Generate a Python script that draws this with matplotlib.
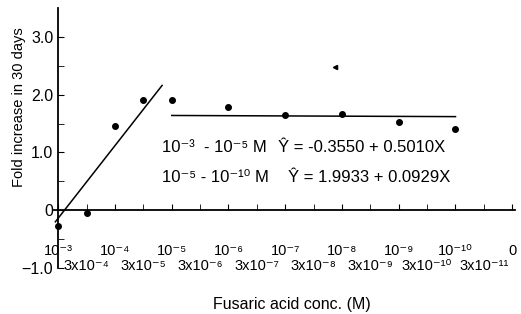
"""Fold increase vs fusaric acid concentration"""

import matplotlib
matplotlib.use("Agg")
import matplotlib.pyplot as plt

plt.rcParams["font.family"] = ["Liberation Sans", "DejaVu Sans"]
plt.rcParams["mathtext.default"] = "regular"

# Concentration steps, one per tick (10^-3 down to 0)
top_labels = ["10⁻³", "10⁻⁴", "10⁻⁵", "10⁻⁶", "10⁻⁷",
              "10⁻⁸", "10⁻⁹", "10⁻¹⁰", "0"]
bottom_labels = ["3x10⁻⁴", "3x10⁻⁵", "3x10⁻⁶", "3x10⁻⁷",
                 "3x10⁻⁸", "3x10⁻⁹", "3x10⁻¹⁰", "3x10⁻¹¹"]

# Measured points (x = concentration step index)
point_x = [0, 1, 2, 3, 4, 6, 8, 10, 12, 14]
point_y = [-0.27, -0.05, 1.45, 1.90, 1.90, 1.78, 1.64, 1.67, 1.53, 1.40]

# Fitted lines as drawn
fit1_x = [-0.1, 3.66]
fit1_y = [-0.20, 2.16]
fit2_x = [4.0, 14.0]
fit2_y = [1.64, 1.62]

# stray mark on the scan
stray_x = [9.75]
stray_y = [2.48]

fig = plt.figure(figsize=(5.21, 3.14), dpi=100)
ax = fig.add_axes([0.1036, 0.1465, 0.885, 0.828])

ax.plot(point_x, point_y, "o", color="black", markersize=4)
ax.plot(stray_x, stray_y, "<", color="black", markersize=3)
ax.plot(fit1_x, fit1_y, color="black", linewidth=1.1)
ax.plot(fit2_x, fit2_y, color="black", linewidth=1.1)

ax.set_xlim(-0.15, 16.1)
ax.set_ylim(-1.0, 3.5)

ax.spines["left"].set_position(("data", 0))
ax.spines["bottom"].set_position(("data", 0))
ax.spines["top"].set_visible(False)
ax.spines["right"].set_visible(False)
for s in ["left", "bottom"]:
    ax.spines[s].set_linewidth(1.3)

ax.set_xticks(range(0, 17, 2))
ax.set_xticklabels(top_labels)
ax.set_xticks(range(1, 17, 2), minor=True)
ax.set_xticklabels(bottom_labels, minor=True)
ax.tick_params(axis="x", which="major", direction="in", length=4, pad=24, labelsize=10.5)
ax.tick_params(axis="x", which="minor", direction="in", length=4, pad=35, labelsize=10.5)

ax.set_yticks([-1.0, 0, 1.0, 2.0, 3.0])
ax.set_yticklabels(["\u22121.0", "0", "1.0", "2.0", "3.0"])
ax.set_yticks([-0.5, 0.5, 1.5, 2.5], minor=True)
ax.tick_params(axis="y", which="both", direction="in", length=4, labelsize=11.5)

ax.text(3.65, 1.09, "10⁻³  - 10⁻⁵ M", fontsize=12, va="center")
ax.text(7.75, 1.09, "\u0176 = -0.3550 + 0.5010X", fontsize=12, va="center")
ax.text(3.65, 0.57, "10⁻⁵ - 10⁻¹⁰ M", fontsize=12, va="center")
ax.text(8.1, 0.57, "\u0176 = 1.9933 + 0.0929X", fontsize=12, va="center")

ax.set_ylabel("Fold increase in 30 days", fontsize=10.5)
ax.yaxis.set_label_coords(-0.061, 0.62)
ax.text(0.516, -0.142, "Fusaric acid conc. (M)", transform=ax.transAxes,
        ha="center", va="center", fontsize=11.5)

plt.savefig("out.png", dpi=100)
